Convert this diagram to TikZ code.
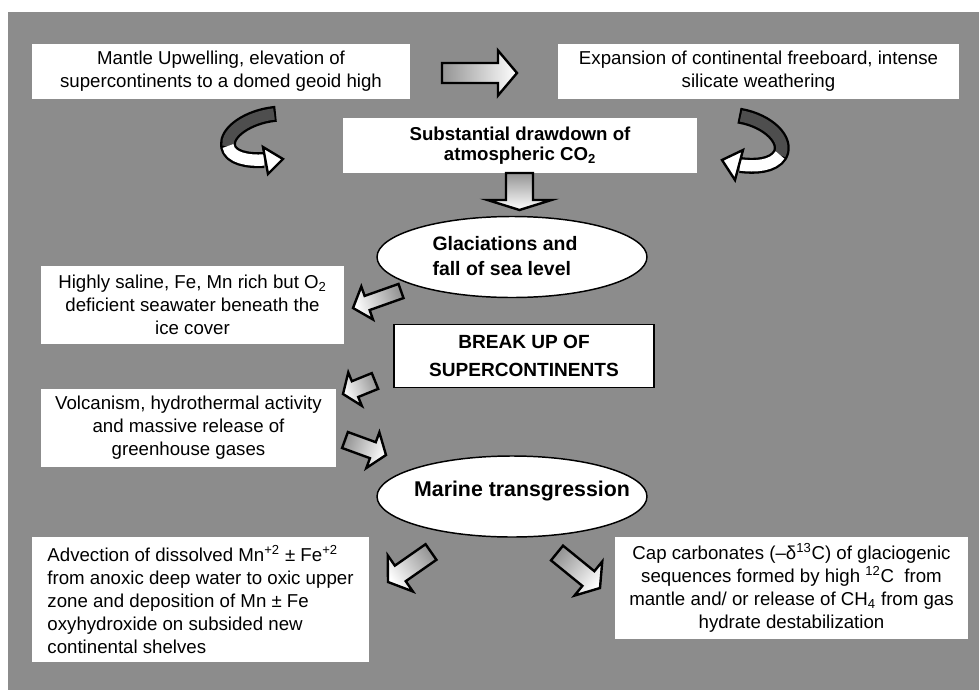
\documentclass[tikz,border=0pt]{standalone}
\usepackage{fontspec}
\setmainfont{Liberation Sans}
\usetikzlibrary{shapes.geometric}
\definecolor{bg}{RGB}{140,140,140}
\definecolor{ribbon}{RGB}{78,78,78}
% block arrow: x1 y1 (tail) x2 y2 (tip) shaftwidth headwidth headlength, all in px
\newcommand\blockarrow[7]{%
  \pgfmathsetmacro\baang{atan2(-(#4-#2),#3-#1)}%
  \pgfmathsetmacro\balen{veclen(#3-#1,#4-#2)}%
  \pgfmathsetmacro\babase{\balen-#7}%
  \pgfmathsetmacro\bashade{\baang+90}%
  \begin{scope}[shift={(#1,#2)}, rotate=\baang, x=0.75pt, y=0.75pt]
    \shade[draw=black, line width=1.8pt, line join=miter, left color=black!42, right color=white, shading angle=\bashade]
      (0,-#5/2) -- (\babase,-#5/2) -- (\babase,-#6/2) -- (\balen,0) -- (\babase,#6/2) -- (\babase,#5/2) -- (0,#5/2) -- cycle;
  \end{scope}}
\begin{document}
\begin{tikzpicture}[x=0.75pt,y=-0.75pt,
  box/.style={fill=white, inner sep=0pt, align=center, font=\fontsize{14}{17.25}\selectfont},
  oval/.style={ellipse, draw=black, line width=1.1pt, fill=white, inner sep=0pt,
    minimum width=202.5pt, minimum height=60.75pt}]
\useasboundingbox (0,0) rectangle (979,690);
\fill[white] (0,0) rectangle (979,690);
\fill[bg] (8,12) rectangle (979,690);

\node[box, minimum width=283.5pt, minimum height=41.25pt] (mantle) at (221,71.5)
  {Mantle Upwelling, elevation of\\supercontinents to a domed geoid high};
\node[box, minimum width=300.75pt, minimum height=41.25pt] (expansion) at (758.5,71.5)
  {Expansion of continental freeboard, intense\\silicate weathering};
\node[box, minimum width=265.5pt, minimum height=41.25pt, font=\bfseries\fontsize{14}{15}\selectfont] (co2) at (520,145.5)
  {Substantial drawdown of\\atmospheric CO\textsubscript{2}};
\node[oval] (glac) at (512,257) {};
\node[align=left, inner sep=0pt, font=\bfseries\fontsize{14.6}{18.75}\selectfont] (glactext) at (505,256)
  {Glaciations and\\fall of sea level};
\node[box, minimum width=227.25pt, minimum height=58.5pt] (saline) at (192.5,305)
  {Highly saline, Fe, Mn rich but O\textsubscript{2}\\deficient seawater beneath the\\ice cover};
\node[box, draw=black, line width=1.2pt, minimum width=195pt, minimum height=47.25pt,
  font=\bfseries\fontsize{14.3}{21}\selectfont] (breakup) at (524,356)
  {BREAK UP OF\\SUPERCONTINENTS};
\node[box, minimum width=221.25pt, minimum height=58.5pt] (volc) at (188.5,428)
  {Volcanism, hydrothermal activity\\and massive release of\\greenhouse gases};
\node[oval] (marine) at (512,496.5) {};
\node[inner sep=0pt, font=\bfseries\fontsize{16}{19}\selectfont] (marinetext) at (522,491)
  {Marine transgression};
\node[box, align=left, minimum width=252.75pt, minimum height=93.75pt] (advection) at (200.5,599.5)
  {Advection of dissolved Mn\textsuperscript{+2} ± Fe\textsuperscript{+2}\\from anoxic deep water to oxic upper\\zone and deposition of Mn ± Fe\\oxyhydroxide on subsided new\\continental shelves};
\node[box, minimum width=264.75pt, minimum height=76.5pt] (cap) at (791.5,588)
  {Cap carbonates (–δ\textsuperscript{13}C) of glaciogenic\\sequences formed by high \textsuperscript{12}C\ \ from\\mantle and/ or release of CH\textsubscript{4} from gas\\hydrate destabilization};

% straight block arrows
\blockarrow{442}{73}{517}{73}{20}{45}{19}
\blockarrow{519.5}{173}{519.5}{210}{27}{64}{10}
\blockarrow{401}{291}{353}{308}{15}{35}{15}
\blockarrow{375}{381}{343}{394}{17}{36}{13}
\blockarrow{345}{440}{386}{455}{17}{38}{14}
\blockarrow{431}{552}{388}{582}{19}{44}{15}
\blockarrow{557}{553}{600}{588}{19}{44}{15}

% curved ribbon arrow, left
\draw[line width=12pt, black, line cap=butt, line join=round]
  (276,113.8) -- (274,114) .. controls (248,117) and (226,132) .. (228,146)
  .. controls (230,158) and (248,161) .. (264,160);
\draw[line width=8.5pt, ribbon, line cap=butt] (274,114) .. controls (248,117) and (226,132) .. (228,146);
\draw[line width=8.5pt, white, line cap=butt] (228,146) .. controls (230,158) and (248,161) .. (264,160);
\filldraw[fill=white, draw=black, line width=1.8pt, line join=miter] (263,147) -- (283,159) -- (268,174) -- cycle;

% curved ribbon arrow, right
\draw[line width=12pt, black, line cap=butt, line join=round]
  (739,115.6) -- (741,116) .. controls (768,121) and (788,140) .. (780,155)
  .. controls (773,166) and (755,167) .. (740,165);
\draw[line width=8.5pt, ribbon, line cap=butt] (741,116) .. controls (768,121) and (788,140) .. (780,155);
\draw[line width=8.5pt, white, line cap=butt] (780,155) .. controls (773,166) and (755,167) .. (740,165);
\filldraw[fill=white, draw=black, line width=1.8pt, line join=miter] (743,150) -- (722,160) -- (735,180) -- cycle;
\end{tikzpicture}
\end{document}
